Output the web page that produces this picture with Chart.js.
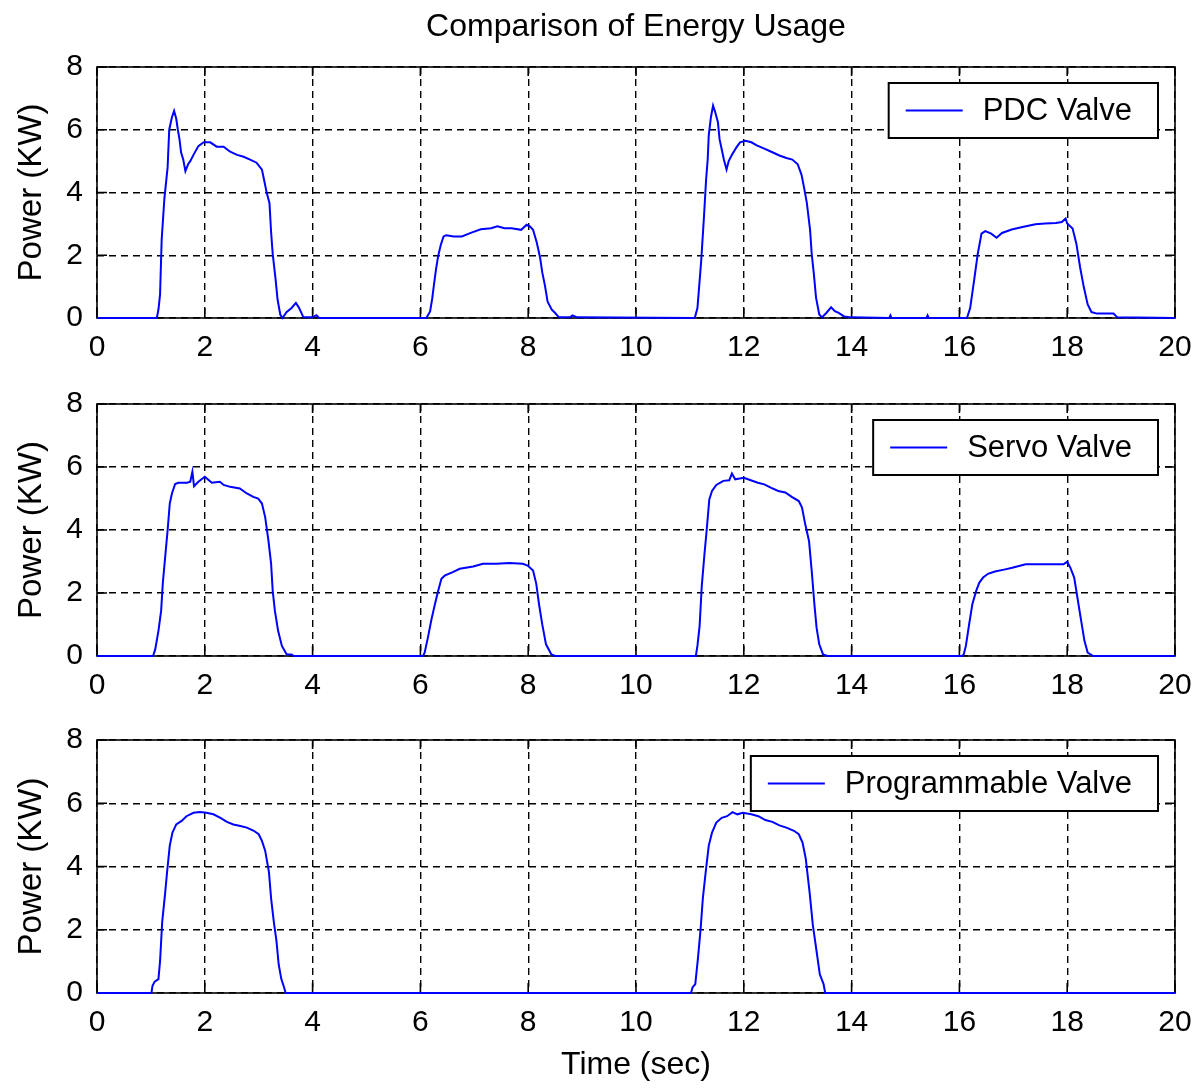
<!DOCTYPE html>
<html>
<head>
<meta charset="utf-8">
<title>Comparison of Energy Usage</title>
<script src="https://cdn.jsdelivr.net/npm/chart.js@4.4.0/dist/chart.umd.min.js"></script>
<style>
  body { margin: 0; background: #fff; }
  #wrap { position: relative; width: 1197px; height: 1089px; }
  canvas { position: absolute; left: 0; }
</style>
</head>
<body>
<div id="wrap">
  <canvas id="pdc" width="1197" height="375" style="top:0px"></canvas>
  <canvas id="servo" width="1197" height="335" style="top:375px"></canvas>
  <canvas id="prog" width="1197" height="379" style="top:710px"></canvas>
</div>
<script>
// axis ticks
const xTicks = [0, 2, 4, 6, 8, 10, 12, 14, 16, 18, 20];
const yTicks = [0, 2, 4, 6, 8];

// PDC valve, time (sec) / power (KW)
const pdcTime = [0, 1.11, 1.14, 1.17, 1.2, 1.25, 1.31, 1.34, 1.39, 1.43, 1.47, 1.5, 1.53, 1.56, 1.6, 1.64, 1.69, 1.73, 1.79, 1.88, 1.98, 2.1, 2.22, 2.35, 2.47, 2.6, 2.72, 2.84, 2.96, 3.06, 3.1, 3.15, 3.2, 3.23, 3.26, 3.31, 3.35, 3.4, 3.44, 3.52, 3.61, 3.69, 3.75, 3.83, 4.0, 4.07, 4.12,
  6.11, 6.18, 6.22, 6.25, 6.29, 6.33, 6.38, 6.43, 6.48, 6.62, 6.77, 6.9, 6.96, 7.12, 7.31, 7.43, 7.56, 7.69, 7.87, 7.97, 8.03, 8.09, 8.16, 8.22, 8.26, 8.31, 8.36, 8.44, 8.5, 8.57, 8.78, 8.82, 8.91,
  11.09, 11.14, 11.21, 11.26, 11.3, 11.33, 11.35, 11.39, 11.43, 11.47, 11.52, 11.55, 11.59, 11.63, 11.68, 11.72, 11.78, 11.86, 11.93, 12.03, 12.14, 12.24, 12.38, 12.52, 12.66, 12.79, 12.9, 13.0, 13.07, 13.12, 13.17, 13.23, 13.26, 13.3, 13.34, 13.4, 13.45, 13.53, 13.62, 13.69, 13.76, 13.86, 14.0,
  14.7, 14.72, 14.74, 15.39, 15.41, 15.43,
  16.14, 16.2, 16.28, 16.34, 16.41, 16.48, 16.59, 16.69, 16.79, 16.97, 17.17, 17.41, 17.59, 17.79, 17.9, 17.97, 18.0, 18.1, 18.17, 18.24, 18.31, 18.38, 18.45, 18.55, 18.86, 18.93, 20];
const pdcPower = [0, 0, 0.27, 0.75, 2.5, 3.8, 4.8, 6.0, 6.4, 6.6, 6.35, 6.0, 5.7, 5.27, 5.05, 4.68, 4.9, 5.0, 5.2, 5.48, 5.6, 5.6, 5.46, 5.46, 5.3, 5.2, 5.14, 5.05, 4.95, 4.73, 4.4, 3.98, 3.66, 2.74, 2.04, 1.29, 0.59, 0.11, 0, 0.19, 0.32, 0.48, 0.32, 0.02, 0.02, 0.09, 0,
  0, 0.21, 0.63, 1.04, 1.56, 1.98, 2.34, 2.6, 2.64, 2.6, 2.6, 2.69, 2.73, 2.83, 2.86, 2.92, 2.86, 2.86, 2.81, 2.97, 2.92, 2.81, 2.4, 1.93, 1.46, 1.04, 0.52, 0.26, 0.16, 0.02, 0.02, 0.08, 0.02,
  0, 0.32, 1.83, 3.2, 4.4, 5.05, 5.83, 6.4, 6.77, 6.56, 6.24, 5.7, 5.38, 5.05, 4.73, 5.0, 5.2, 5.43, 5.6, 5.65, 5.6, 5.5, 5.4, 5.29, 5.18, 5.1, 5.05, 4.9, 4.57, 4.14, 3.66, 2.8, 2.04, 1.4, 0.65, 0.11, 0.02, 0.16, 0.34, 0.22, 0.16, 0.05, 0.02,
  0, 0.08, 0, 0, 0.08, 0,
  0, 0.32, 1.29, 2.04, 2.69, 2.77, 2.69, 2.56, 2.71, 2.82, 2.9, 2.99, 3.01, 3.03, 3.06, 3.17, 3.01, 2.85, 2.37, 1.61, 0.97, 0.43, 0.19, 0.14, 0.14, 0.02, 0];

// Servo valve, middle plot
const servoTime = [0, 1.04, 1.08, 1.14, 1.19, 1.22, 1.27, 1.31, 1.35, 1.39, 1.45, 1.51, 1.67, 1.73, 1.77, 1.8, 1.88, 2.0, 2.13, 2.28, 2.35, 2.47, 2.65, 2.78, 2.9, 2.99, 3.06, 3.12, 3.18, 3.23, 3.26, 3.3, 3.36, 3.43, 3.52, 3.61, 3.65,
  6.05, 6.08, 6.14, 6.2, 6.27, 6.33, 6.39, 6.45, 6.6, 6.73, 6.98, 7.16, 7.41, 7.65, 7.9, 7.99, 8.09, 8.15, 8.2, 8.26, 8.33, 8.43, 8.5,
  11.11, 11.14, 11.18, 11.22, 11.27, 11.31, 11.36, 11.41, 11.49, 11.62, 11.73, 11.78, 11.84, 12.0, 12.13, 12.26, 12.38, 12.51, 12.64, 12.77, 12.89, 13.02, 13.08, 13.14, 13.21, 13.26, 13.31, 13.35, 13.4, 13.47, 13.55,
  16.05, 16.08, 16.12, 16.18, 16.24, 16.31, 16.37, 16.44, 16.53, 16.66, 16.85, 16.98, 17.23, 17.49, 17.74, 17.93, 18.0, 18.06, 18.13, 18.19, 18.26, 18.32, 18.38, 18.48, 20];
const servoPower = [0, 0, 0.21, 0.8, 1.44, 2.29, 3.24, 3.99, 4.84, 5.16, 5.46, 5.5, 5.5, 5.53, 5.85, 5.39, 5.53, 5.69, 5.5, 5.53, 5.43, 5.37, 5.32, 5.16, 5.05, 5.0, 4.84, 4.41, 3.67, 2.93, 2.07, 1.44, 0.8, 0.32, 0.05, 0.05, 0,
  0, 0.11, 0.59, 1.12, 1.65, 2.07, 2.45, 2.55, 2.66, 2.77, 2.84, 2.93, 2.93, 2.95, 2.93, 2.87, 2.71, 2.29, 1.65, 1.01, 0.37, 0.05, 0,
  0, 0.32, 0.95, 2.22, 3.23, 3.97, 4.97, 5.24, 5.43, 5.56, 5.58, 5.79, 5.61, 5.66, 5.58, 5.5, 5.45, 5.34, 5.24, 5.19, 5.05, 4.92, 4.71, 4.18, 3.65, 2.7, 1.64, 0.9, 0.37, 0.05, 0,
  0, 0.05, 0.32, 1.0, 1.64, 2.06, 2.33, 2.49, 2.61, 2.68, 2.75, 2.8, 2.91, 2.91, 2.91, 2.91, 2.99, 2.8, 2.49, 1.85, 1.11, 0.48, 0.11, 0, 0];

// Programmable valve, bottom plot
const progTime = [0, 1.01, 1.03, 1.07, 1.14, 1.17, 1.21, 1.26, 1.3, 1.35, 1.4, 1.47, 1.57, 1.66, 1.79, 1.91, 2.03, 2.16, 2.29, 2.41, 2.53, 2.66, 2.78, 2.91, 3.0, 3.06, 3.12, 3.19, 3.23, 3.28, 3.33, 3.37, 3.42, 3.47, 3.5,
  11.02, 11.05, 11.1, 11.15, 11.2, 11.24, 11.3, 11.35, 11.41, 11.49, 11.59, 11.69, 11.79, 11.88, 11.98, 12.14, 12.27, 12.4, 12.53, 12.66, 12.79, 12.93, 13.02, 13.09, 13.15, 13.22, 13.28, 13.35, 13.41, 13.48, 13.51, 20];
const progPower = [0, 0, 0.23, 0.36, 0.44, 1.01, 2.26, 3.09, 3.82, 4.66, 5.07, 5.33, 5.44, 5.59, 5.7, 5.72, 5.7, 5.65, 5.54, 5.41, 5.33, 5.28, 5.23, 5.13, 5.02, 4.81, 4.5, 3.82, 2.99, 2.26, 1.64, 0.91, 0.44, 0.18, 0,
  0, 0.18, 0.28, 1.11, 2.05, 2.99, 3.93, 4.66, 5.07, 5.39, 5.54, 5.59, 5.72, 5.65, 5.7, 5.65, 5.59, 5.47, 5.41, 5.3, 5.23, 5.13, 5.02, 4.76, 4.24, 3.2, 2.16, 1.32, 0.59, 0.28, 0, 0];

const FAMILY = '"Liberation Sans", Arial, Helvetica, sans-serif';

// box, inward ticks, legend and title like a matlab figure
const matlabFrame = {
  id: 'matlabFrame',
  beforeDatasetsDraw(chart) {
    const { ctx, chartArea: a, scales: { x, y } } = chart;
    ctx.save();
    ctx.setLineDash([]);
    ctx.strokeStyle = '#000';
    ctx.lineWidth = 1.6;
    ctx.strokeRect(a.left, a.top, a.right - a.left, a.bottom - a.top);
    ctx.beginPath();
    x.ticks.forEach(t => {
      const px = x.getPixelForValue(t.value);
      ctx.moveTo(px, a.bottom); ctx.lineTo(px, a.bottom - 10);
      ctx.moveTo(px, a.top); ctx.lineTo(px, a.top + 9);
    });
    y.ticks.forEach(t => {
      const py = y.getPixelForValue(t.value);
      ctx.moveTo(a.left, py); ctx.lineTo(a.left + 10, py);
      ctx.moveTo(a.right, py); ctx.lineTo(a.right - 10, py);
    });
    ctx.stroke();
    ctx.restore();
  },
  afterDraw(chart, args, opts) {
    const { ctx, chartArea: a } = chart;
    const ds = chart.data.datasets[0];
    ctx.save();
    if (opts.title) {
      ctx.font = '32px ' + FAMILY;
      ctx.fillStyle = '#000';
      ctx.textAlign = 'center';
      ctx.textBaseline = 'middle';
      ctx.fillText(opts.title, (a.left + a.right) / 2, 27);
    }
    // legend box
    ctx.font = '31px ' + FAMILY;
    const tw = ctx.measureText(ds.label).width;
    const w = 17 + 57 + 20 + tw + 26, h = 55;
    const bx = a.right - 17 - w, by = a.top + 16;
    ctx.fillStyle = '#fff';
    ctx.fillRect(bx, by, w, h);
    ctx.lineWidth = 2;
    ctx.strokeStyle = '#000';
    ctx.strokeRect(bx, by, w, h);
    ctx.strokeStyle = ds.borderColor;
    ctx.beginPath();
    ctx.moveTo(bx + 17, by + h / 2);
    ctx.lineTo(bx + 74, by + h / 2);
    ctx.stroke();
    ctx.fillStyle = '#000';
    ctx.textAlign = 'left';
    ctx.textBaseline = 'middle';
    ctx.fillText(ds.label, bx + 94, by + h / 2 + 1);
    ctx.restore();
  }
};

function makePlot(id, label, times, values, padTop, xHeight, showXTitle, title) {
  const tickFont = { family: FAMILY, size: 30 };
  // invisible outer tick marks only used to space the labels from the axes
  const gridOpts = tl => ({
    color: '#000', lineWidth: 1.4, borderDash: [7, 5],
    drawTicks: true, tickLength: tl, tickColor: 'rgba(0,0,0,0)', tickWidth: 0
  });
  return new Chart(document.getElementById(id), {
    type: 'line',
    data: {
      datasets: [{
        label: label,
        data: times.map((t, i) => ({ x: t, y: values[i] })),
        borderColor: '#0000ff',
        borderWidth: 2,
        pointRadius: 0,
        tension: 0,
        fill: false,
        clip: false
      }]
    },
    options: {
      responsive: false,
      animation: false,
      events: [],
      layout: { padding: { top: padTop, right: 22, left: 0, bottom: 0 } },
      plugins: {
        legend: { display: false },
        tooltip: { enabled: false },
        matlabFrame: { title: title }
      },
      scales: {
        x: {
          type: 'linear',
          min: 0,
          max: 20,
          afterBuildTicks: s => { s.ticks = xTicks.map(v => ({ value: v })); },
          afterFit: s => { s.height = xHeight; },
          ticks: { font: tickFont, color: '#000', padding: 0, maxRotation: 0, autoSkip: false },
          grid: gridOpts(12),
          border: { display: false, dash: [7, 5] },
          title: {
            display: showXTitle,
            text: 'Time (sec)',
            font: { family: FAMILY, size: 32 },
            color: '#000',
            padding: { top: 0, bottom: 5 }
          }
        },
        y: {
          min: 0,
          max: 8,
          afterBuildTicks: s => { s.ticks = yTicks.map(v => ({ value: v })); },
          afterFit: s => { s.width = 97; },
          ticks: { font: tickFont, color: '#000', padding: 0 },
          grid: gridOpts(14),
          border: { display: false, dash: [7, 5] },
          title: {
            display: true,
            text: 'Power (KW)',
            font: { family: FAMILY, size: 33 },
            color: '#000',
            padding: { top: 12, bottom: 0 }
          }
        }
      }
    },
    plugins: [matlabFrame]
  });
}

makePlot('pdc', 'PDC Valve', pdcTime, pdcPower, 67, 57, false, 'Comparison of Energy Usage');
makePlot('servo', 'Servo Valve', servoTime, servoPower, 29, 54, false, null);
makePlot('prog', 'Programmable Valve', progTime, progPower, 30, 96, true, null);
</script>
</body>
</html>
